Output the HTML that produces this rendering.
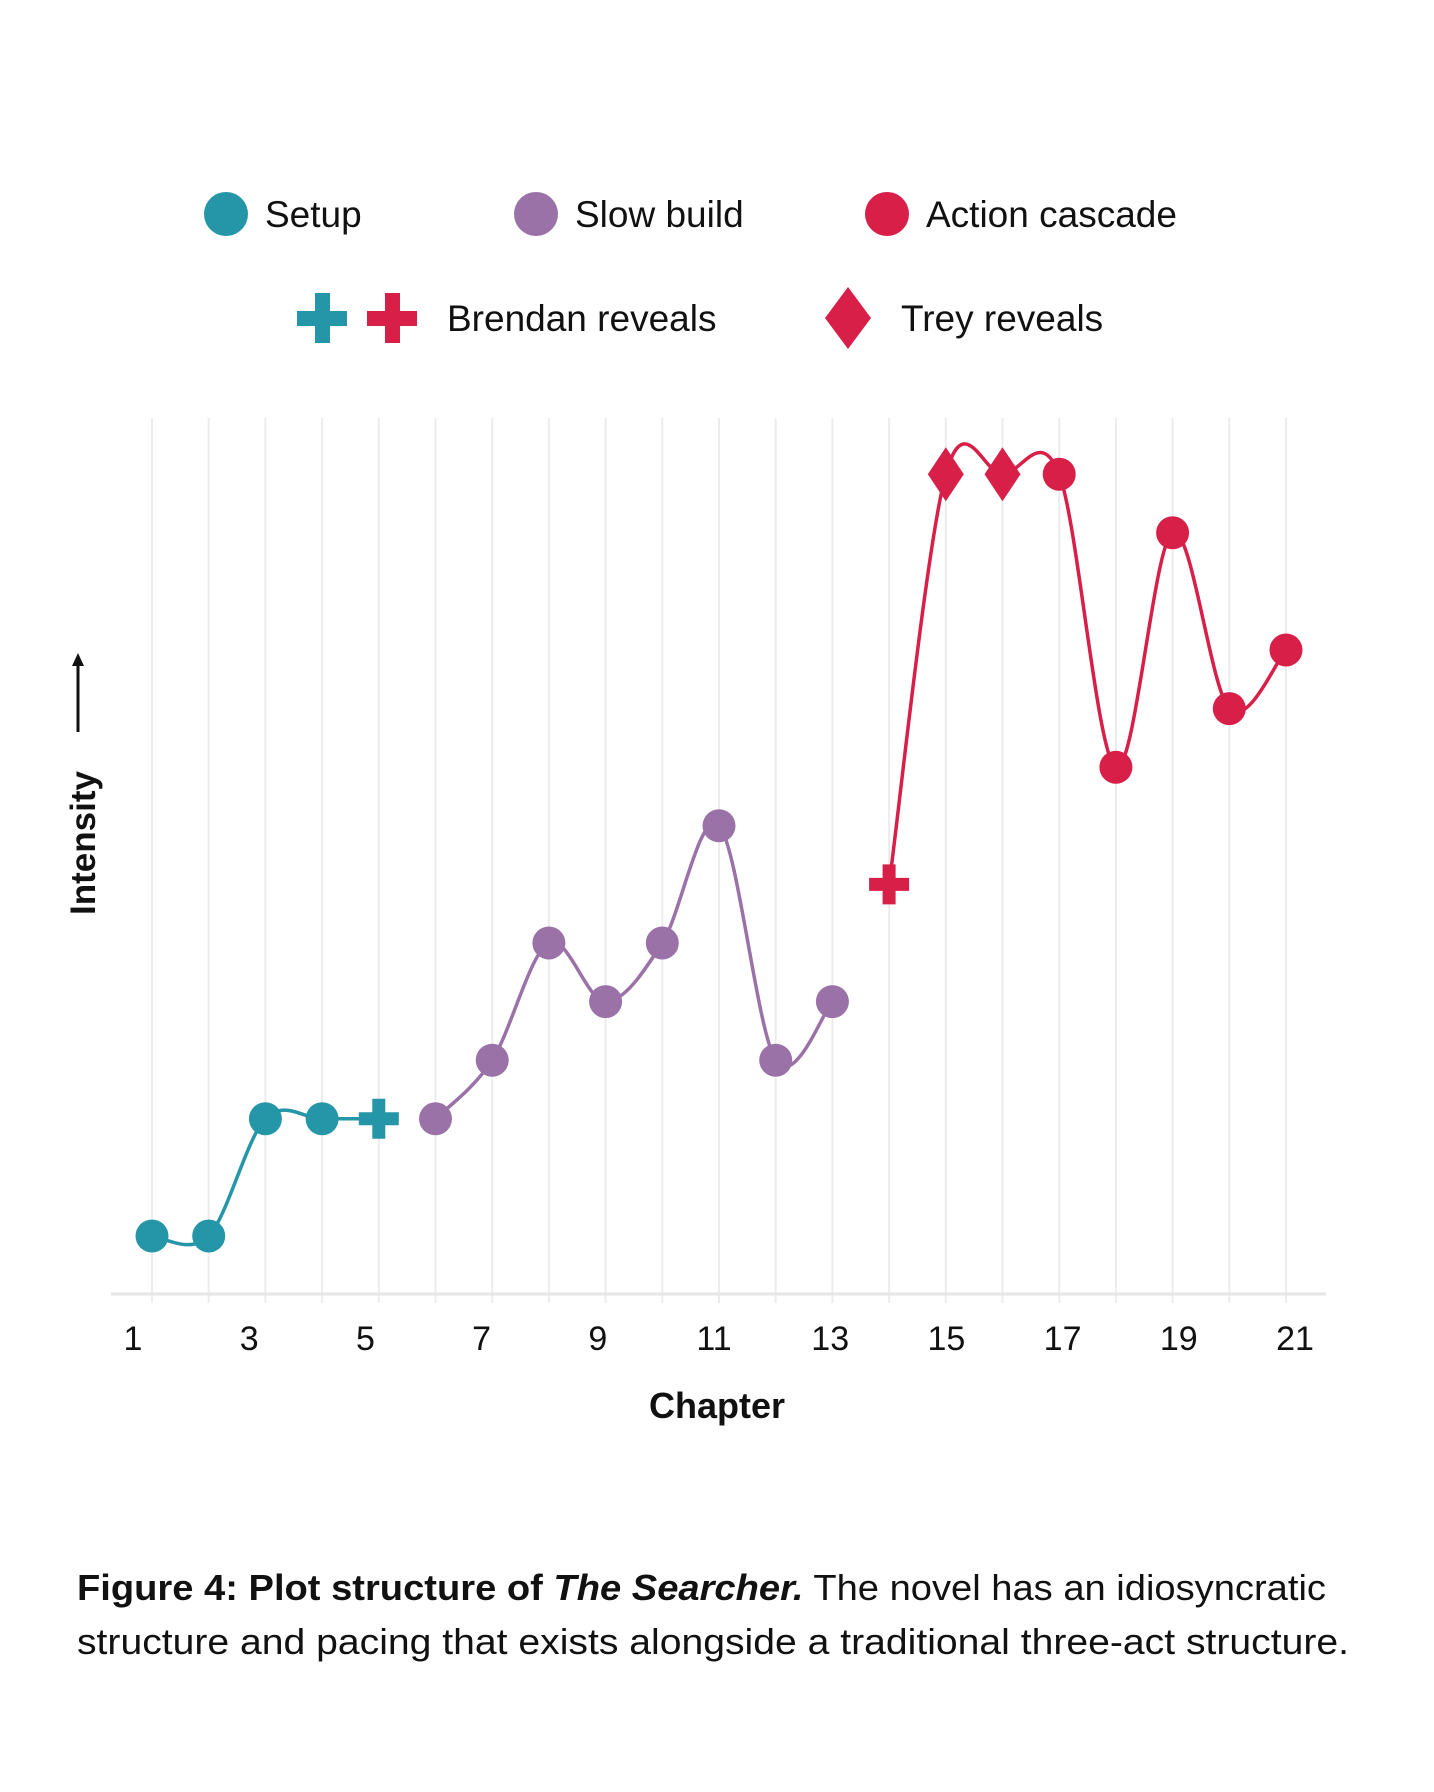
<!DOCTYPE html>
<html><head><meta charset="utf-8"><style>
html,body{margin:0;padding:0;background:#fff;}
svg{display:block;font-family:"Liberation Sans",sans-serif;}
</style></head><body>
<svg id="chart" width="1434" height="1792" viewBox="0 0 1434 1792" xmlns="http://www.w3.org/2000/svg">
<g>
  <circle cx="226" cy="214" r="22" fill="#2596a8"/>
  <text x="265" y="227" font-size="37" fill="#111">Setup</text>
  <circle cx="536" cy="214" r="22" fill="#9b72a8"/>
  <text x="575" y="227" font-size="37" fill="#111">Slow build</text>
  <circle cx="887" cy="214" r="22" fill="#d81f48"/>
  <text x="926" y="227" font-size="37" fill="#111">Action cascade</text>
  <g fill="#2596a8"><rect x="297" y="311" width="50" height="15"/><rect x="315" y="293" width="15" height="50"/></g>
  <g fill="#d81f48"><rect x="367" y="311" width="50" height="15"/><rect x="385" y="293" width="15" height="50"/></g>
  <text x="447" y="331" font-size="37" fill="#111">Brendan reveals</text>
  <polygon points="848,287 871,318 848,349 825,318" fill="#d81f48"/>
  <text x="901" y="331" font-size="37" fill="#111">Trey reveals</text>
</g>
<g id="grid"></g>
<line x1="111" y1="1294" x2="1326" y2="1294" stroke="#e6e6e6" stroke-width="3"/>
<g id="xticks"></g>
<text x="717" y="1418" font-size="36" font-weight="bold" text-anchor="middle" fill="#111">Chapter</text>
<g>
  <text x="0" y="0" font-size="35" font-weight="bold" text-anchor="middle" transform="translate(95,843) rotate(-90)" fill="#111">Intensity</text>
  <line x1="78" y1="732" x2="78" y2="664" stroke="#111" stroke-width="3"/>
  <polygon points="78,653 72,666 84,666" fill="#111"/>
</g>
<g id="series"></g>
<g>
  <text x="77" y="1600" font-size="36" fill="#111" textLength="1249" lengthAdjust="spacingAndGlyphs"><tspan font-weight="bold">Figure 4: Plot structure of <tspan font-style="italic">The Searcher.</tspan></tspan> The novel has an idiosyncratic</text>
  <text x="77" y="1654" font-size="36" fill="#111" textLength="1272" lengthAdjust="spacingAndGlyphs">structure and pacing that exists alongside a traditional three-act structure.</text>
</g>
</svg>
<script>
const chapters = [1,2,3,4,5,6,7,8,9,10,11,12,13,14,15,16,17,18,19,20,21];
const intensity = [0,0,2,2,2,2,3,5,4,5,7,3,4,6,13,13,13,8,12,9,10];
const phase = ['setup','setup','setup','setup','setup','slow','slow','slow','slow','slow','slow','slow','slow','action','action','action','action','action','action','action','action'];
const markerType = ['circle','circle','circle','circle','plus','circle','circle','circle','circle','circle','circle','circle','circle','plus','diamond','diamond','circle','circle','circle','circle','circle'];
const tickLabels = ['1','3','5','7','9','11','13','15','17','19','21'];

const NS = 'http://www.w3.org/2000/svg';
const colors = {setup:'#2596a8', slow:'#9b72a8', action:'#d81f48'};
function xScale(c){ return 152 + (c-1)*56.7; }
function yScale(v){ return 1236 - v*58.6; }
function mk(tag, attrs, parent){ const e=document.createElementNS(NS,tag); for(const k in attrs) e.setAttribute(k,attrs[k]); parent.appendChild(e); return e; }

const grid = document.getElementById('grid');
chapters.forEach(c=>{
  const l = mk('line',{x1:xScale(c),x2:xScale(c),y1:418,y2:1303,stroke:'#ececec','stroke-width':2},grid);
  
  
});
const xt = document.getElementById('xticks');
tickLabels.forEach((t,i)=>{
  const e = mk('text',{x:133+i*116.2,y:1350,'font-size':34,'text-anchor':'middle',fill:'#111'},xt);
  e.textContent = t;
  
  
});

const series = document.getElementById('series');
function crPath(pts){
  let d = 'M'+pts[0][0]+','+pts[0][1];
  for(let i=0;i<pts.length-1;i++){
    const p0=pts[i-1]||pts[i], p1=pts[i], p2=pts[i+1], p3=pts[i+2]||p2;
    const c1=[p1[0]+(p2[0]-p0[0])/6, p1[1]+(p2[1]-p0[1])/6];
    const c2=[p2[0]-(p3[0]-p1[0])/6, p2[1]-(p3[1]-p1[1])/6];
    d+=' C'+c1[0]+','+c1[1]+' '+c2[0]+','+c2[1]+' '+p2[0]+','+p2[1];
  }
  return d;
}
['setup','slow','action'].forEach(ph=>{
  const pts=[];
  chapters.forEach((c,i)=>{ if(phase[i]===ph) pts.push([xScale(c),yScale(intensity[i])]); });
  const p = mk('path',{d:crPath(pts),fill:'none',stroke:colors[ph],'stroke-width':3.5},series);
  
  
});
chapters.forEach((c,i)=>{
  const x=xScale(c), y=yScale(intensity[i]), col=colors[phase[i]];
  let m;
  if(markerType[i]==='circle'){
    m = mk('circle',{cx:x,cy:y,r:16.5,fill:col},series);
  } else if(markerType[i]==='plus'){
    m = mk('path',{d:`M${x-20},${y-6.5}h13.5v-13.5h13v13.5h13.5v13h-13.5v13.5h-13v-13.5h-13.5z`,fill:col},series);
  } else {
    m = mk('polygon',{points:`${x},${y-27} ${x+18},${y} ${x},${y+27} ${x-18},${y}`,fill:col},series);
  }
  
  
});
</script>
</body></html>
